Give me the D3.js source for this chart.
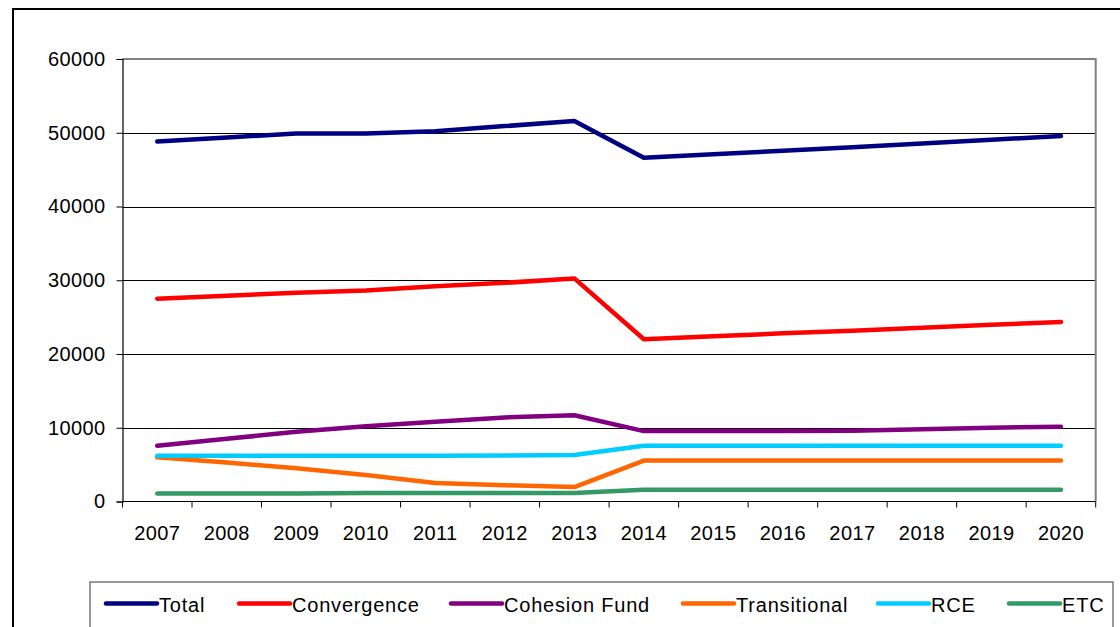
<!DOCTYPE html>
<html><head><meta charset="utf-8">
<script src="https://cdn.jsdelivr.net/npm/d3@7"></script>
<style>
body{margin:0;background:#fff;}
svg{display:block;font-family:"Liberation Sans",Arial,sans-serif;}
</style></head>
<body>
<svg id="chart" width="1120" height="627"></svg>
<script>
const years = ["2007","2008","2009","2010","2011","2012","2013","2014","2015","2016","2017","2018","2019","2020"];
const yTicks = [0,10000,20000,30000,40000,50000,60000];
const seriesNames = ["Total","Convergence","Cohesion Fund","Transitional","RCE","ETC"];
const seriesColors = ["#000080","#FF0000","#800080","#FF6600","#00CCFF","#339966"];
const total        = [48800,49350,49900,49900,50200,50900,51600,46600,47100,47550,48050,48550,49050,49550];
const convergence  = [27500,27900,28300,28600,29200,29650,30250,22000,22400,22800,23150,23550,23950,24350];
const cohesionFund = [7550,8500,9450,10200,10800,11400,11700,9550,9550,9550,9600,9800,10000,10150];
const transitional = [6000,5300,4500,3600,2500,2200,1950,5550,5550,5550,5550,5550,5550,5550];
const rce          = [6200,6200,6200,6200,6200,6250,6300,7550,7550,7550,7550,7550,7550,7550];
const etc          = [1100,1100,1100,1150,1150,1150,1150,1600,1600,1600,1600,1600,1600,1600];
const seriesValues = [total,convergence,cohesionFund,transitional,rce,etc];

const svg = d3.select("#chart");
const L = 122.5, R = 1095.7, T = 59, B = 501.5;

// outer frame
svg.append("rect").attr("x",13).attr("y",9).attr("width",1120).attr("height",640)
  .attr("fill","none").attr("stroke","#000").attr("stroke-width",2);

const x = d3.scaleBand().domain(years).range([L,R]).padding(0);
const y = d3.scaleLinear().domain([0,60000]).range([B,T]);

// gridlines
svg.append("g").selectAll("line").data(yTicks.filter(d=>d>0 && d<60000)).join("line")
  .attr("x1",L).attr("x2",R).attr("y1",d=>Math.round(y(d))+0.5).attr("y2",d=>Math.round(y(d))+0.5)
  .attr("stroke","#000").attr("stroke-width",1);

// plot border top/right gray
svg.append("path").attr("d",`M${L},${T}H${R}V${B}`).attr("fill","none")
  .attr("stroke","#808080").attr("stroke-width",2);

// y axis
const yAxis = svg.append("g").attr("transform",`translate(${L},0)`)
  .call(d3.axisLeft(y).tickValues(yTicks).tickFormat(d3.format("d")).tickSize(6).tickPadding(11));
yAxis.select(".domain").attr("stroke","#000").attr("stroke-width",1.2);
yAxis.selectAll(".tick line").attr("stroke","#000");
yAxis.selectAll("text").attr("font-size",20).attr("fill","#000").attr("letter-spacing",0.4)
  .attr("font-family","Liberation Sans, Arial, sans-serif");

// x axis
const xAxis = svg.append("g").attr("transform",`translate(0,${B})`)
  .call(d3.axisBottom(x).tickSize(0).tickPadding(24));
xAxis.select(".domain").remove();
xAxis.selectAll("text").attr("font-size",20).attr("fill","#000").attr("letter-spacing",0.4)
  .attr("font-family","Liberation Sans, Arial, sans-serif");
svg.append("line").attr("x1",L).attr("x2",R).attr("y1",B).attr("y2",B).attr("stroke","#000").attr("stroke-width",1.2);
const bounds = years.map(d=>x(d)).concat([R]);
svg.append("g").selectAll("line").data(bounds).join("line")
  .attr("x1",d=>d).attr("x2",d=>d).attr("y1",B).attr("y2",B+6).attr("stroke","#000").attr("stroke-width",1);

// series lines
const line = d3.line().x((d,i)=>x(years[i])+x.bandwidth()/2).y(d=>y(d));
seriesValues.forEach((vals,k)=>{
  svg.append("path").datum(vals).attr("d",line).attr("fill","none")
    .attr("stroke",seriesColors[k]).attr("stroke-width",4.5)
    .attr("stroke-linecap","round").attr("stroke-linejoin","round");
});

// legend
svg.append("rect").attr("x",90).attr("y",582).attr("width",1023).attr("height",70)
  .attr("fill","#fff").attr("stroke","#777").attr("stroke-width",1.5);
const legX = [106, 239, 451, 683, 878, 1009];
const lg = svg.append("g");
seriesNames.forEach((n,k)=>{
  lg.append("line").attr("x1",legX[k]).attr("x2",legX[k]+51).attr("y1",603.5).attr("y2",603.5)
    .attr("stroke",seriesColors[k]).attr("stroke-width",4.5).attr("stroke-linecap","round");
  lg.append("text").attr("x",legX[k]+53).attr("y",611.5).attr("font-size",20).attr("letter-spacing",0.8)
    .attr("fill","#000").text(n);
});
</script>
</body></html>
